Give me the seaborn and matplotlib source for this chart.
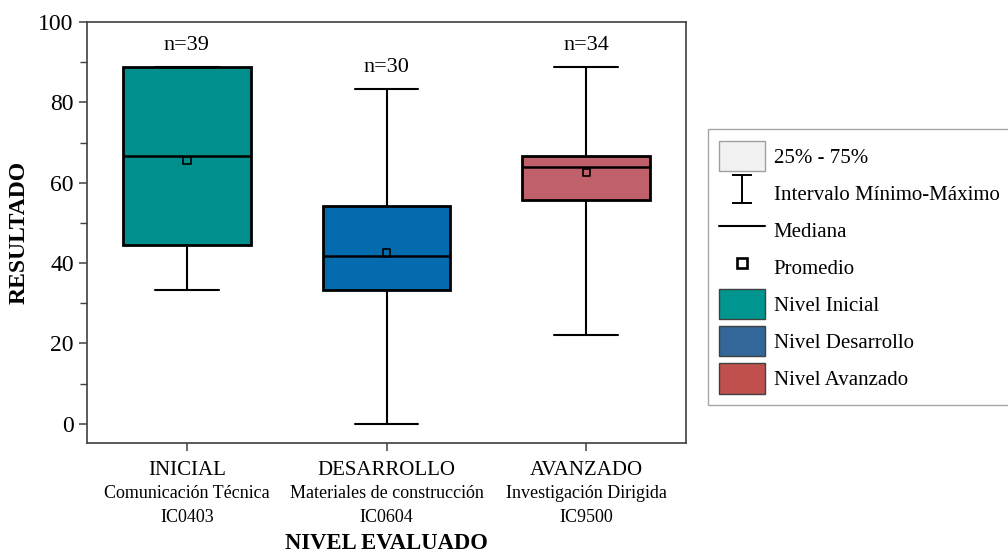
import numpy as np
import pandas as pd
import matplotlib
matplotlib.use("Agg")
import matplotlib.pyplot as plt
from matplotlib.lines import Line2D
from matplotlib.patches import Patch
from matplotlib.path import Path
from matplotlib.ticker import MultipleLocator
import seaborn as sns

# Resumen de cinco números por nivel: mínimo, Q1, mediana, Q3, máximo
niveles = ["INICIAL", "DESARROLLO", "AVANZADO"]
cursos = ["Comunicación Técnica", "Materiales de construcción", "Investigación Dirigida"]
codigos = ["IC0403", "IC0604", "IC9500"]
resumen_inicial = [33.3, 44.4, 66.7, 88.9, 88.9]
resumen_desarrollo = [0.0, 33.3, 41.7, 54.2, 83.3]
resumen_avanzado = [22.2, 55.6, 63.9, 66.7, 88.9]
promedios = [65.5, 42.5, 62.5]
n_estudiantes = [39, 30, 34]
colores = ["#008F8C", "#036BAE", "#C0606A"]
colores_leyenda = ["#00968F", "#336699", "#C0504D"]
nombres_leyenda = ["Nivel Inicial", "Nivel Desarrollo", "Nivel Avanzado"]

sns.set_theme(style="white")
plt.rcParams["font.family"] = ["Liberation Serif", "DejaVu Serif"]
plt.rcParams["text.color"] = "black"
plt.rcParams["axes.labelcolor"] = "black"

df = pd.DataFrame({
    "nivel": np.repeat(niveles, 5),
    "resultado": resumen_inicial + resumen_desarrollo + resumen_avanzado,
})

fig = plt.figure(figsize=(10.08, 5.53), dpi=100)
ax = fig.add_axes([0.0863, 0.199, 0.5943, 0.761])

sns.boxplot(
    data=df, x="nivel", y="resultado", hue="nivel", order=niveles, hue_order=niveles,
    palette=colores, whis=(0, 100), width=0.64, linecolor="black", linewidth=1.5,
    fliersize=0, legend=False, saturation=1, ax=ax,
    boxprops=dict(linewidth=2.0), medianprops=dict(linewidth=1.8),
)

sns.scatterplot(
    x=niveles, y=promedios, marker="s", s=28, facecolor="none",
    edgecolor="black", linewidth=1.2, ax=ax, zorder=5,
)

maximos = [resumen_inicial[-1], resumen_desarrollo[-1], resumen_avanzado[-1]]
for i, (m, n) in enumerate(zip(maximos, n_estudiantes)):
    ax.text(i, m + 5.4, f"n={n}", ha="center", va="center", fontsize=16)

ax.set_xlim(-0.5, 2.5)
ax.set_ylim(-4.8, 100)
ax.yaxis.set_major_locator(MultipleLocator(20))
ax.yaxis.set_minor_locator(MultipleLocator(10))
ax.tick_params(axis="both", which="major", direction="out", length=6, width=1.1,
               color="#404040", labelcolor="black", labelsize=17, left=True, bottom=True)
ax.tick_params(axis="y", which="minor", direction="out", length=5, width=1.0,
               color="#404040", left=True)
ax.tick_params(axis="x", labelsize=15, pad=7)
for s in ax.spines.values():
    s.set_color("#404040")
    s.set_linewidth(1.2)

ax.set_xlabel("")
ax.set_xticks(range(len(niveles)))
ax.set_xticklabels(niveles)
for i, (c, k) in enumerate(zip(cursos, codigos)):
    ax.annotate(c, xy=(i, 0), xycoords=("data", "axes fraction"), xytext=(0, -36.5),
                textcoords="offset points", ha="center", va="center", fontsize=13)
    ax.annotate(k, xy=(i, 0), xycoords=("data", "axes fraction"), xytext=(0, -53.5),
                textcoords="offset points", ha="center", va="center", fontsize=13)

ax.set_ylabel("RESULTADO", fontsize=17, fontweight="bold", labelpad=6)
fig.text(0.3835, 0.018, "NIVEL EVALUADO", ha="center", va="center",
         fontsize=16.3, fontweight="bold")

# Leyenda con los elementos del diagrama de caja
ibeam = Path([(-0.7, -1), (0.7, -1), (0, -1), (0, 1), (-0.7, 1), (0.7, 1)],
             [Path.MOVETO, Path.LINETO, Path.MOVETO, Path.LINETO, Path.MOVETO, Path.LINETO])
handles = [
    Patch(facecolor="#F2F2F2", edgecolor="#A0A0A0", linewidth=1.0),
    Line2D([], [], marker=ibeam, markersize=20, color="black", linestyle="none",
           markeredgewidth=1.4),
    Line2D([], [], color="black", linewidth=1.5),
    Line2D([], [], marker="s", markersize=7.5, markerfacecolor="none",
           markeredgecolor="black", markeredgewidth=1.9, linestyle="none"),
] + [Patch(facecolor=c, edgecolor="#404040", linewidth=1.0) for c in colores_leyenda]
labels = ["25% - 75%", "Intervalo Mínimo-Máximo", "Mediana", "Promedio"] + nombres_leyenda

leg = fig.legend(
    handles, labels, loc="upper left", bbox_to_anchor=(0.702, 0.766),
    frameon=True, fancybox=False, edgecolor="#909090", fontsize=15,
    handlelength=2.2, handleheight=1.84, labelspacing=0.34, handletextpad=0.43,
    borderpad=0.55, borderaxespad=0,
)
leg.get_frame().set_linewidth(1.0)

fig.savefig("out.png", dpi=100)
